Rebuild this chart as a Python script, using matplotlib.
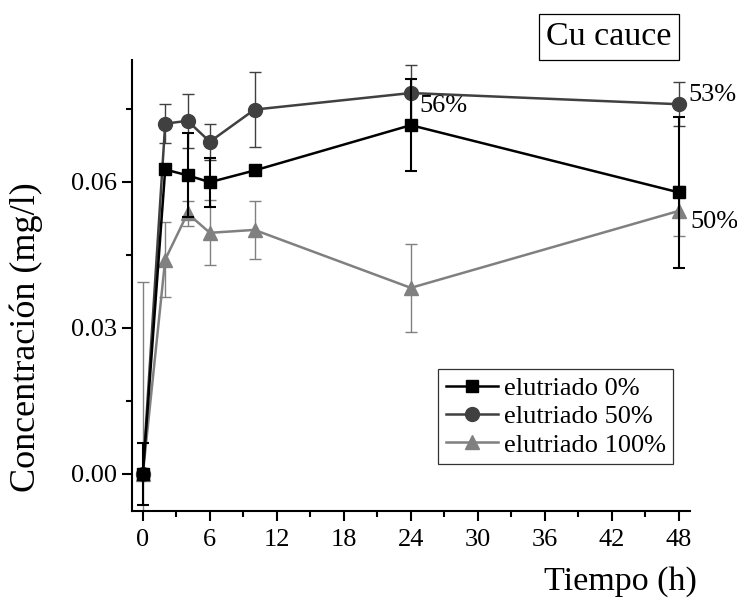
import matplotlib
matplotlib.use("Agg")
import matplotlib.pyplot as plt
from matplotlib.ticker import MultipleLocator, FormatStrFormatter

plt.rcParams['font.family'] = ['Liberation Serif', 'DejaVu Serif']

# Datos (tiempo en horas, concentración en mg/l)
tiempo = [0, 2, 4, 6, 10, 24, 48]

elu0 = [0.0, 0.0625, 0.0613, 0.0599, 0.0623, 0.0716, 0.0578]
elu0_err = [0.0063, 0.001, 0.0086, 0.005, 0.0, 0.0095, 0.0155]

elu50 = [0.0, 0.0719, 0.0725, 0.0682, 0.0748, 0.0782, 0.0759]
elu50_err = [0.0, 0.004, 0.0055, 0.0037, 0.0077, 0.0057, 0.0045]

elu100 = [0.0, 0.0440, 0.0535, 0.0495, 0.0501, 0.0382, 0.0540]
elu100_err = [0.0395, 0.0077, 0.0025, 0.0067, 0.006, 0.009, 0.0052]

etiquetas = ["56%", "53%", "50%"]

fig = plt.figure(figsize=(7.37, 5.99), dpi=100)
ax = fig.add_axes([0.1787, 0.147, 0.7575, 0.753])

e100 = ax.errorbar(tiempo, elu100, yerr=elu100_err, color='#808080', marker='^', markersize=10,
                   linewidth=1.8, elinewidth=1.0, capsize=4, capthick=1.0, zorder=2)
e50 = ax.errorbar(tiempo, elu50, yerr=elu50_err, color='#404040', marker='o', markersize=10,
                  linewidth=1.8, elinewidth=1.0, capsize=4, capthick=1.0, zorder=3)
e0 = ax.errorbar(tiempo, elu0, yerr=elu0_err, color='black', marker='s', markersize=9,
                 linewidth=1.8, elinewidth=1.5, capsize=4, capthick=1.5, zorder=4)

ax.set_xlim(-1.0, 49.0)
ax.set_ylim(-0.0076, 0.085)
ax.xaxis.set_major_locator(MultipleLocator(6))
ax.xaxis.set_minor_locator(MultipleLocator(3))
ax.yaxis.set_major_locator(MultipleLocator(0.03))
ax.yaxis.set_minor_locator(MultipleLocator(0.015))
ax.yaxis.set_major_formatter(FormatStrFormatter('%.2f'))

for s in ['top', 'right']:
    ax.spines[s].set_visible(False)
for s in ['left', 'bottom']:
    ax.spines[s].set_linewidth(1.5)
ax.tick_params(which='major', direction='out', length=7, width=1.5, labelsize=19)
ax.tick_params(axis='x', which='major', pad=6)
ax.tick_params(which='minor', direction='out', length=4, width=1.5)

ax.set_xlabel('Tiempo (h)', fontsize=24.5)
ax.xaxis.set_label_coords(0.876, -0.122)
ax.set_ylabel('Concentración (mg/l)', fontsize=26)
ax.yaxis.set_label_coords(-0.158, 0.386)

ax.annotate(etiquetas[0], (tiempo[5], elu0[5]), xytext=(6, 6), textcoords='offset points',
            fontsize=19, ha='left', va='bottom')
ax.annotate(etiquetas[1], (tiempo[6], elu50[6]), xytext=(7, 6.5), textcoords='offset points',
            fontsize=19, ha='left', va='center')
ax.annotate(etiquetas[2], (tiempo[6], elu100[6]), xytext=(8, -8), textcoords='offset points',
            fontsize=19, ha='left', va='center')

fig.text(0.826, 0.938, 'Cu cauce', fontsize=24.5, ha='center', va='center',
         bbox=dict(boxstyle='square,pad=0.22', fc='white', ec='black', lw=0.9))

leg = ax.legend([e0[0], e50[0], e100[0]], ['elutriado 0%', 'elutriado 50%', 'elutriado 100%'],
                loc='lower right', bbox_to_anchor=(0.9695, 0.104), fontsize=19,
                frameon=True, fancybox=False, edgecolor='black', borderpad=0.28,
                labelspacing=0.18, handlelength=2.0, handletextpad=0.2, borderaxespad=0)
leg.get_frame().set_linewidth(0.9)

fig.savefig('out.png', dpi=100)
